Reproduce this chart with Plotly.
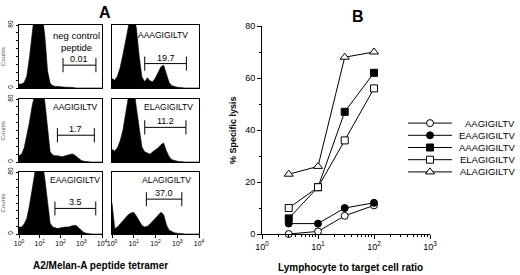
import math
import plotly.graph_objects as go

# ---------------- Panel A data (histograms) ----------------
channel_log10 = [0.0, 0.125, 0.25, 0.375, 0.5, 0.625, 0.75, 0.875, 1.0, 1.125, 1.25,
                 1.375, 1.5, 1.625, 1.75, 1.875, 2.0, 2.125, 2.25, 2.375, 2.5, 2.625,
                 2.75, 2.875, 3.0, 3.125, 3.25, 3.375, 3.5, 3.625, 3.75, 3.875, 4.0]

panel_names = ["neg control<br>peptide", "AAAGIGILTV", "AAGIGILTV",
               "ELAGIGILTV", "EAAGIGILTV", "ALAGIGILTV"]

counts_neg = [5, 5, 7, 15, 38, 68, 95, 100, 100, 92, 65, 22, 6, 3, 2, 2, 1.5, 1.5, 1, 1, 1, 0.5,
              0, 0, 0, 0, 0, 0, 0, 0, 0, 0, 0]
counts_aaag = [12, 10, 15, 26, 42, 60, 80, 95, 95, 75, 40, 14, 8, 13, 9, 8, 13, 20, 27, 29,
               19, 7, 3, 1.5, 1, 0.5, 0, 0, 0, 0, 0, 0, 0]
counts_aag = [8, 10, 18, 32, 50, 70, 92, 100, 100, 97, 75, 40, 13, 9, 8, 8, 7, 7, 8, 9,
              10, 10, 7, 4, 2, 1, 0.5, 0, 0, 0, 0, 0, 0]
counts_elag = [16, 14, 18, 27, 40, 60, 82, 95, 95, 68, 40, 19, 13, 11, 10, 13, 15, 18, 22, 24,
               14, 7, 3, 1.5, 1, 0.5, 0, 0, 0, 0, 0, 0, 0]
counts_eaag = [9, 9, 13, 20, 36, 58, 80, 97, 100, 94, 70, 38, 14, 9, 8, 7, 8, 9, 9, 9,
               10, 11, 11, 8, 4, 2, 1, 0, 0, 0, 0, 0, 0]
counts_alag = [40, 7, 9, 13, 18, 22, 25, 27, 28, 23, 16, 11, 9, 10, 13, 17, 20, 24, 28, 25,
               12, 5, 3, 1.5, 1, 0.5, 0, 0, 0, 0, 0, 0, 0]
panel_counts = [counts_neg, counts_aaag, counts_aag, counts_elag, counts_eaag, counts_alag]

gate_lo = [132, 32, 71, 32, 54, 38]
gate_hi = [5100, 2630, 4270, 2510, 5000, 1620]
gate_level = [29, 31, 34, 44, 33, 45]
gate_pct = ["0.01", "19.7", "1.7", "11.2", "3.5", "37.0"]

decade_vals = [1, 10, 100, 1000, 10000]
decade_text = ["10<sup>0</sup>", "10<sup>1</sup>", "10<sup>2</sup>", "10<sup>3</sup>", "10<sup>4</sup>"]

# ---------------- Panel B data ----------------
ratio = [3, 10, 30, 100]
peptides = ["AAGIGILTV", "EAAGIGILTV", "AAAGIGILTV", "ELAGIGILTV", "ALAGIGILTV"]
lysis = [
    [0, 1, 7, 11],
    [4, 4, 10, 12],
    [6, 18, 47, 62],
    [10, 18, 36, 56],
    [23, 26, 68, 70],
]
symbols = ["circle", "circle", "square", "square", "triangle-up"]
fills = ["white", "black", "black", "white", "white"]
msizes = [7, 7, 7, 7, 8]

W, H = 520, 275


def px_x(a, b):
    return [a / W, b / W]


def px_y(top, bottom):
    return [1 - bottom / H, 1 - top / H]


col_dom = [px_x(19, 102), px_x(112, 199)]
row_dom = [px_y(25, 88), px_y(99, 162), px_y(172, 234)]
# label placement (pixels) for each histogram panel
name_pos = [(76, 28), (163, 35), (75, 107), (168, 107), (75, 180), (166, 180)]

fig = go.Figure()
layout = dict(width=W, height=H, margin=dict(l=0, r=0, t=0, b=0, autoexpand=False),
              paper_bgcolor="white", plot_bgcolor="white", showlegend=False,
              font=dict(family="Liberation Sans, Arial, sans-serif", color="black"))
annotations = []

for i in range(6):
    r, c = divmod(i, 2)
    n = i + 1
    xa = "x" if n == 1 else f"x{n}"
    ya = "y" if n == 1 else f"y{n}"
    xs = [10 ** v for v in channel_log10]
    fig.add_trace(go.Scatter(x=xs, y=panel_counts[i], xaxis=xa, yaxis=ya, mode="lines",
                             line=dict(color="black", width=0.6), fill="tozeroy",
                             fillcolor="black", hoverinfo="skip"))
    lo, hi, lv = gate_lo[i], gate_hi[i], gate_level[i]
    cap = 9
    fig.add_trace(go.Scatter(x=[lo, hi, None, lo, lo, None, hi, hi],
                             y=[lv, lv, None, lv - cap, lv + cap, None, lv - cap, lv + cap],
                             xaxis=xa, yaxis=ya, mode="lines",
                             line=dict(color="black", width=1), hoverinfo="skip"))
    bottom = (r == 2)
    xkey = "xaxis" if n == 1 else f"xaxis{n}"
    ykey = "yaxis" if n == 1 else f"yaxis{n}"
    layout[xkey] = dict(domain=col_dom[c], anchor=ya, type="log", range=[0, 4],
                        automargin=False,
                        showline=True, linecolor="black", linewidth=1, mirror=True,
                        showgrid=False, zeroline=False,
                        tickvals=decade_vals if bottom else [],
                        ticktext=decade_text if bottom else [],
                        ticks="outside" if bottom else "", ticklen=3, tickcolor="black",
                        tickfont=dict(size=7), showticklabels=bottom)
    left = (c == 0)
    layout[ykey] = dict(domain=row_dom[r], anchor=xa, range=[0, 80], automargin=False,
                        showline=True, linecolor="black", linewidth=1, mirror=True,
                        showgrid=False, zeroline=False,
                        tickvals=[0, 10, 20, 30, 40, 50, 60, 70, 80] if left else [],
                        ticktext=["0", "", "", "", "", "", "", "", "80"] if left else [],
                        ticks="outside" if left else "", ticklen=2, tickcolor="black",
                        tickangle=-90, tickfont=dict(size=6.5), showticklabels=left)
    if left:
        layout[ykey]["title"] = dict(text="Counts", font=dict(size=6, color="#555"), standoff=2)
    nx, ny = name_pos[i]
    annotations.append(dict(x=nx / W, y=1 - ny / H, xref="paper", yref="paper",
                            text=panel_names[i], showarrow=False,
                            font=dict(size=9.5 if i == 0 else 8.5),
                            xanchor="center", yanchor="top" if i == 0 else "middle"))
    annotations.append(dict(x=(math.log10(lo) + math.log10(hi)) / 2, y=lv, xref=xa, yref=ya,
                            text=gate_pct[i], showarrow=False, font=dict(size=9),
                            xanchor="center", yanchor="bottom", yshift=-1))

# ---------------- Panel B ----------------
for k in range(5):
    fig.add_trace(go.Scatter(x=ratio, y=lysis[k], xaxis="x7", yaxis="y7", mode="lines+markers",
                             line=dict(color="black", width=1),
                             marker=dict(symbol=symbols[k], size=msizes[k], color=fills[k],
                                         line=dict(color="black", width=1)),
                             cliponaxis=False, name=peptides[k]))

layout["xaxis7"] = dict(domain=px_x(262, 430), anchor="y7", type="log", range=[0, 3],
                        automargin=False,
                        showline=True, linecolor="black", linewidth=1, showgrid=False,
                        zeroline=False, tickvals=[1, 10, 100, 1000],
                        ticktext=["10<sup>0</sup>", "10<sup>1</sup>", "10<sup>2</sup>", "10<sup>3</sup>"],
                        ticks="outside", ticklen=4, tickcolor="black", tickfont=dict(size=9),
                        minor=dict(tickvals=[2, 3, 4, 5, 6, 7, 8, 9, 20, 30, 40, 50, 60, 70, 80, 90,
                                             200, 300, 400, 500, 600, 700, 800, 900],
                                   ticks="outside", ticklen=2, tickcolor="black"))
layout["yaxis7"] = dict(domain=px_y(26, 234), anchor="x7", range=[0, 80], automargin=False,
                        showline=True, linecolor="black", linewidth=1, showgrid=False,
                        zeroline=False, tickvals=[0, 20, 40, 60, 80], ticks="outside",
                        ticklen=4, tickcolor="black", tickfont=dict(size=9),
                        minor=dict(dtick=10, ticks="outside", ticklen=2, tickcolor="black"))

# manual legend
for k in range(5):
    fig.add_trace(go.Scatter(x=[0.067, 0.433], y=[peptides[k]] * 2, xaxis="x8", yaxis="y8",
                             mode="lines", line=dict(color="black", width=1), hoverinfo="skip"))
    fig.add_trace(go.Scatter(x=[0.25], y=[peptides[k]], xaxis="x8", yaxis="y8", mode="markers",
                             marker=dict(symbol=symbols[k], size=msizes[k], color=fills[k],
                                         line=dict(color="black", width=1)), hoverinfo="skip"))
    annotations.append(dict(x=0.975, y=peptides[k], xref="x8", yref="y8", text=peptides[k],
                            showarrow=False, xanchor="right", yanchor="middle",
                            font=dict(size=9.5)))
layout["xaxis8"] = dict(domain=px_x(400, 520), anchor="y8", range=[0, 1], visible=False,
                        automargin=False)
layout["yaxis8"] = dict(domain=px_y(117, 178), anchor="x8", type="category",
                        categoryorder="array", categoryarray=peptides[::-1],
                        range=[-0.5, 4.5], visible=False, automargin=False)

# titles
annotations += [
    dict(x=105 / W, y=1 - 12 / H, xref="paper", yref="paper", text="<b>A</b>", showarrow=False,
         font=dict(size=16), xanchor="center", yanchor="middle"),
    dict(x=358 / W, y=1 - 17 / H, xref="paper", yref="paper", text="<b>B</b>", showarrow=False,
         font=dict(size=16), xanchor="center", yanchor="middle"),
    dict(x=100 / W, y=1 - 265 / H, xref="paper", yref="paper",
         text="<b>A2/Melan-A peptide tetramer</b>", showarrow=False, font=dict(size=10),
         xanchor="center", yanchor="middle"),
    dict(x=350 / W, y=1 - 267 / H, xref="paper", yref="paper",
         text="<b>Lymphocyte to target cell ratio</b>", showarrow=False, font=dict(size=10),
         xanchor="center", yanchor="middle"),
    dict(x=233 / W, y=1 - 130 / H, xref="paper", yref="paper",
         text="<b>% Specific lysis</b>", showarrow=False, font=dict(size=9), textangle=-90,
         xanchor="center", yanchor="middle"),
]
layout["annotations"] = annotations
fig.update_layout(**layout)
fig.write_html("out.html")
